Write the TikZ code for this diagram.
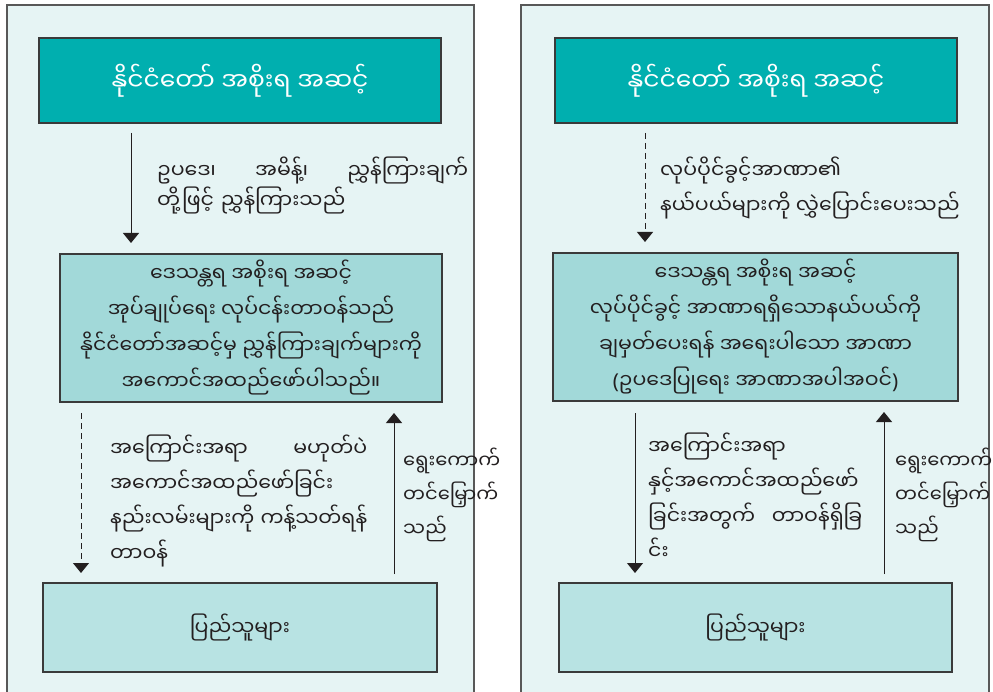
\documentclass[tikz,border=0pt]{standalone}
\usepackage{fontspec}
\newfontfamily\mya[Script=Myanmar]{Noto Sans Myanmar UI}
\newfontfamily\latn{Noto Sans}
\usetikzlibrary{arrows.meta}

\definecolor{panelfill}{HTML}{E6F4F4}
\definecolor{panelline}{HTML}{585858}
\definecolor{boxline}{HTML}{3A3A3A}
\definecolor{topfill}{HTML}{00AFAF}
\definecolor{midfill}{HTML}{A2D9D9}
\definecolor{lowfill}{HTML}{B8E3E3}
\definecolor{ink}{HTML}{231F20}

\tikzset{
  paneledge/.style={draw=panelline, line width=1.8pt},
  box/.style={draw=boxline, line width=1.4pt, inner sep=0pt, outer sep=0pt,
    text=ink, align=center, font=\mya\fontsize{20.5}{36}\selectfont},
  topbox/.style={box, fill=topfill, text=white, font=\mya\fontsize{25}{30}\selectfont},
  midbox/.style={box, fill=midfill},
  lowbox/.style={box, fill=lowfill},
  flow/.style={draw=ink, line width=1pt, -{Triangle[length=10pt,width=16pt]}},
  dflow/.style={flow, dash pattern=on 6pt off 4pt},
  lbl/.style={anchor=north west, inner sep=0pt, text=ink, align=left,
    font=\mya\fontsize{20.5}{35}\selectfont},
  sidelbl/.style={lbl, font=\mya\fontsize{19.5}{34}\selectfont},
}

\begin{document}
\begin{tikzpicture}[x=1pt,y=-1pt]
\useasboundingbox (0,0) rectangle (993,692);
\clip (0,0) rectangle (993,692);

% two background panels, open at the bottom
\fill[panelfill] (7,5) rectangle (474,700);
\fill[panelfill] (521,5) rectangle (989,700);
\draw[paneledge] (7,700) -- (7,5) -- (474,5) -- (474,700);
\draw[paneledge] (521,700) -- (521,5) -- (989,5) -- (989,700);

% ---------------- left panel ----------------
\node[topbox, minimum width=402pt, minimum height=85pt] (ltop) at (240,80.5)
  {နိုင်ငံတော် အစိုးရ အဆင့်};
\node[midbox, minimum width=382pt, minimum height=148pt] (lmid) at (251,328)
  {ဒေသန္တရ အစိုးရ အဆင့်\\
   အုပ်ချုပ်ရေး လုပ်ငန်းတာဝန်သည်\\
   နိုင်ငံတော်အဆင့်မှ ညွှန်ကြားချက်များကို\\
   အကောင်အထည်ဖော်ပါသည်။};
\node[lowbox, minimum width=394pt, minimum height=89pt] (llow) at (240,627.5)
  {ပြည်သူများ};

\coordinate (lxa) at (131,0);
\coordinate (lxb) at (81,0);
\coordinate (lxc) at (394,0);
\draw[flow, shorten <=10pt, shorten >=11pt] (lxa |- ltop.south) -- (lxa |- lmid.north);
\draw[dflow, shorten <=11pt, shorten >=10pt] (lxb |- lmid.south) -- (lxb |- llow.north);
\draw[flow, shorten <=9pt, shorten >=11pt] (lxc |- llow.north) -- (lxc |- lmid.south);

\node[lbl, text width=311pt, font=\mya\fontsize{20.5}{30}\selectfont] (lt1) at (157,157)
  {ဥပဒေ၊\hfill အမိန့်၊\hfill ညွှန်ကြားချက်\\
   တို့ဖြင့် ညွှန်ကြားသည်};
\node[lbl, text width=257pt] (lt2) at (110,435)
  {အကြောင်းအရာ\hfill မဟုတ်ပဲ\\
   အကောင်အထည်ဖော်ခြင်း\\
   နည်းလမ်းများကို\hfill ကန့်သတ်ရန်\\
   တာဝန်};
\node[sidelbl] (lt3) at (403,448)
  {ရွေးကောက်\\ တင်မြှောက်\\ သည်};

% ---------------- right panel ----------------
\node[topbox, minimum width=402pt, minimum height=85pt] (rtop) at (756,80.5)
  {နိုင်ငံတော် အစိုးရ အဆင့်};
\node[midbox, minimum width=405pt, minimum height=148pt] (rmid) at (755.5,327)
  {ဒေသန္တရ အစိုးရ အဆင့်\\
   လုပ်ပိုင်ခွင့် အာဏာရရှိသောနယ်ပယ်ကို\\
   ချမှတ်ပေးရန် အရေးပါသော အာဏာ\\
   {\latn(}ဥပဒေပြုရေး အာဏာအပါအဝင်{\latn)}};
\node[lowbox, minimum width=393pt, minimum height=89pt] (rlow) at (755.5,627.5)
  {ပြည်သူများ};

\coordinate (rxa) at (645,0);
\coordinate (rxb) at (635,0);
\coordinate (rxc) at (884,0);
\draw[dflow, shorten <=10pt, shorten >=11pt] (rxa |- rtop.south) -- (rxa |- rmid.north);
\draw[flow, shorten <=12pt, shorten >=10pt] (rxb |- rmid.south) -- (rxb |- rlow.north);
\draw[flow, shorten <=9pt, shorten >=11pt] (rxc |- rlow.north) -- (rxc |- rmid.south);

\node[lbl] (rt1) at (660,157)
  {လုပ်ပိုင်ခွင့်အာဏာ၏\\
   နယ်ပယ်များကို လွှဲပြောင်းပေးသည်};
\node[lbl, text width=214pt] (rt2) at (648,433)
  {အကြောင်းအရာ\\
   နှင့်အကောင်အထည်ဖော်\\
   ခြင်းအတွက်\hfill တာဝန်ရှိခြ\\
   င်း};
\node[sidelbl] (rt3) at (895,448)
  {ရွေးကောက်\\ တင်မြှောက်\\ သည်};
\end{tikzpicture}
\end{document}
